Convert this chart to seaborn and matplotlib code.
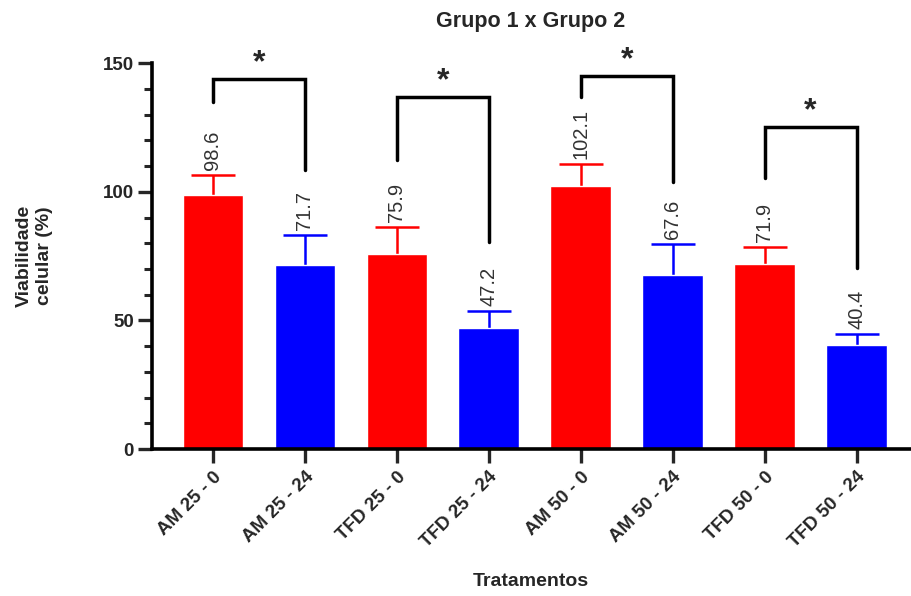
import pandas as pd
import matplotlib
matplotlib.use('Agg')
import matplotlib.pyplot as plt
import seaborn as sns
from matplotlib.ticker import MultipleLocator

# dados
grupos = ['AM 25 - 0', 'AM 25 - 24', 'TFD 25 - 0', 'TFD 25 - 24',
          'AM 50 - 0', 'AM 50 - 24', 'TFD 50 - 0', 'TFD 50 - 24']
medias = [98.6, 71.7, 75.9, 47.2, 102.1, 67.6, 71.9, 40.4]
desvios = [7.9, 11.5, 10.4, 6.4, 8.7, 12.1, 6.6, 4.3]
cores = ['#FF0000', '#0000FF'] * 4

# comparações (índices dos pares e alturas dos colchetes)
pares = [(0, 1), (2, 3), (4, 5), (6, 7)]
topo_colchete = [143.8, 136.8, 145.0, 125.0]
perna_esq = [134.9, 112.3, 137.0, 105.3]
perna_dir = [108.4, 80.4, 103.8, 70.3]
marcas = ['*', '*', '*', '*']

sns.set_style('white')
plt.rcParams['font.family'] = ['Liberation Sans', 'DejaVu Sans']

df = pd.DataFrame({'grupo': grupos, 'media': medias})

fig = plt.figure(figsize=(9.12, 5.96), dpi=100)
ax = fig.add_axes([0.1667, 0.2466, 0.831, 0.6474])

sns.barplot(data=df, x='grupo', y='media', hue='grupo', palette=cores,
            width=0.66, legend=False, ax=ax, saturation=1)
for barra in ax.patches:
    barra.set_zorder(2)

# barras de erro atrás das barras: só a parte de cima aparece
for i, (m, s, c) in enumerate(zip(medias, desvios, cores)):
    ax.errorbar(i, m, yerr=s, color=c, capsize=16, elinewidth=1.8,
                capthick=1.8, fmt='none', zorder=1)
    ax.text(i, m + s + 2.0, f'{m:.1f}', rotation=90, ha='center', va='bottom',
            fontsize=14.5, color='#333333')

for (a, b), t, le, ld, mk in zip(pares, topo_colchete, perna_esq, perna_dir, marcas):
    ax.plot([a, a, b, b], [le, t, t, ld], color='black', lw=2.5,
            solid_joinstyle='miter', clip_on=False)
    ax.text((a + b) / 2, t + 0.3, mk, ha='center', va='bottom', fontsize=23,
            fontweight='bold', clip_on=False)

ax.set_xlim(-0.663, 7.58)
ax.set_ylim(0, 150)
ax.yaxis.set_major_locator(MultipleLocator(50))
ax.yaxis.set_minor_locator(MultipleLocator(10))
ax.tick_params(axis='y', which='major', length=10, width=2.4, left=True,
               labelsize=13.5, pad=3)
ax.tick_params(axis='y', which='minor', length=6, width=2.2, left=True)
ax.tick_params(axis='x', length=10, width=2.4, bottom=True, labelsize=13.5,
               pad=4)

for lab in ax.get_yticklabels():
    lab.set_fontweight('bold')
ax.set_xticks(range(len(grupos)))
ax.set_xticklabels(grupos, rotation=45, ha='right', rotation_mode='anchor',
                   fontweight='bold')

for lado in ['top', 'right']:
    ax.spines[lado].set_visible(False)
for lado in ['left', 'bottom']:
    ax.spines[lado].set_linewidth(2.6)
    ax.spines[lado].set_color('black')

ax.set_xlabel('Tratamentos', fontsize=14, fontweight='bold', labelpad=16)
ax.set_ylabel('Viabilidade\ncelular (%)', fontsize=14, fontweight='bold',
              labelpad=36)
ax.set_title('Grupo 1 x Grupo 2', fontsize=15.5, fontweight='bold', pad=26)

fig.savefig('out.png', dpi=100)
